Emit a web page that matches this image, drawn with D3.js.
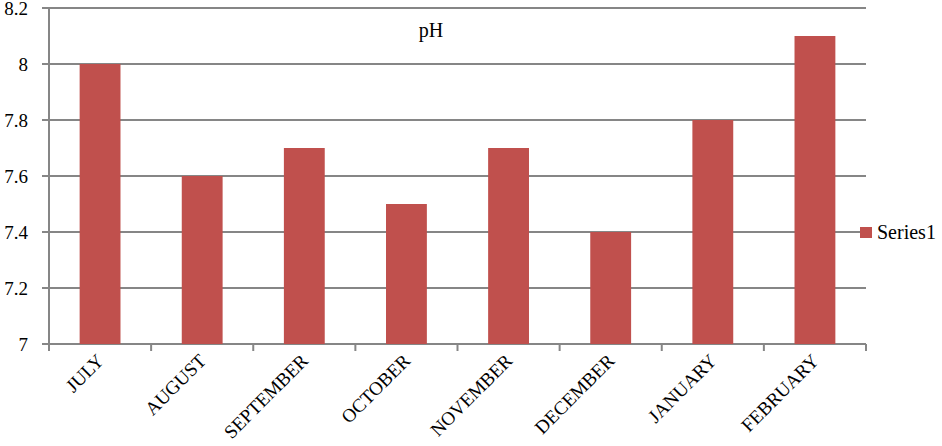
<!DOCTYPE html>
<html><head><meta charset="utf-8">
<script src="https://cdn.jsdelivr.net/npm/d3@7"></script>
<style>body{margin:0;background:#fff}svg{display:block}</style>
</head><body>
<script>
const categories = ["JULY","AUGUST","SEPTEMBER","OCTOBER","NOVEMBER","DECEMBER","JANUARY","FEBRUARY"];
const series1 = [8.0, 7.6, 7.7, 7.5, 7.7, 7.4, 7.8, 8.1];
const yTicks = [7, 7.2, 7.4, 7.6, 7.8, 8, 8.2];
const seriesName = "Series1";
const title = "pH";

const W = 942, H = 446;
const m = {left: 49, right: 76, top: 8, bottom: 102};
const svg = d3.select("body").append("svg").attr("width", W).attr("height", H);
const font = "'Liberation Serif', 'DejaVu Serif', serif";

const x = d3.scaleBand().domain(categories).range([m.left, W - m.right]).paddingInner(0.6).paddingOuter(0.3);
const xb = d3.scaleBand().domain(categories).range([m.left, W - m.right]);
const y = d3.scaleLinear().domain([7, 8.2]).range([H - m.bottom, m.top]);

// gridlines
svg.append("g").selectAll("line").data(yTicks).join("line")
  .attr("x1", m.left - 7).attr("x2", W - m.right)
  .attr("y1", d => y(d)).attr("y2", d => y(d))
  .attr("stroke", "#868686").attr("stroke-width", 2);

// bars
svg.append("g").selectAll("rect").data(series1).join("rect")
  .attr("x", (d, i) => x(categories[i]))
  .attr("width", x.bandwidth())
  .attr("y", d => y(d))
  .attr("height", d => y(7) - y(d))
  .attr("fill", "#C0504D");

// y axis line
svg.append("line").attr("x1", m.left).attr("x2", m.left)
  .attr("y1", m.top).attr("y2", y(7) + 1)
  .attr("stroke", "#868686").attr("stroke-width", 2);

// y labels
svg.append("g").selectAll("text").data(yTicks).join("text")
  .attr("x", 28).attr("y", d => y(d)).attr("dy", "0.35em")
  .attr("text-anchor", "end").attr("font-family", font).attr("font-size", 19)
  .text(d => d3.format("")(+d.toFixed(1)));

// x axis ticks
const bounds = categories.map(c => xb(c)).concat([W - m.right]);
svg.append("g").selectAll("line").data(bounds).join("line")
  .attr("x1", d => d).attr("x2", d => d)
  .attr("y1", y(7)).attr("y2", y(7) + 7)
  .attr("stroke", "#868686").attr("stroke-width", 2);

// x labels
svg.append("g").selectAll("text").data(categories).join("text")
  .attr("transform", c => `translate(${xb(c) + xb.bandwidth()/2 + 5},${y(7) + 18}) rotate(-45)`)
  .attr("text-anchor", "end").attr("font-family", font).attr("font-size", 19)
  .text(c => c);

// title
svg.append("text").attr("x", 431).attr("y", 37).attr("text-anchor", "middle")
  .attr("font-family", font).attr("font-size", 20).text(title);

// legend
svg.append("rect").attr("x", 860).attr("y", 227).attr("width", 12).attr("height", 11).attr("fill", "#C0504D");
svg.append("text").attr("x", 877).attr("y", 239).attr("font-family", font).attr("font-size", 20).text(seriesName);
</script>
</body></html>
